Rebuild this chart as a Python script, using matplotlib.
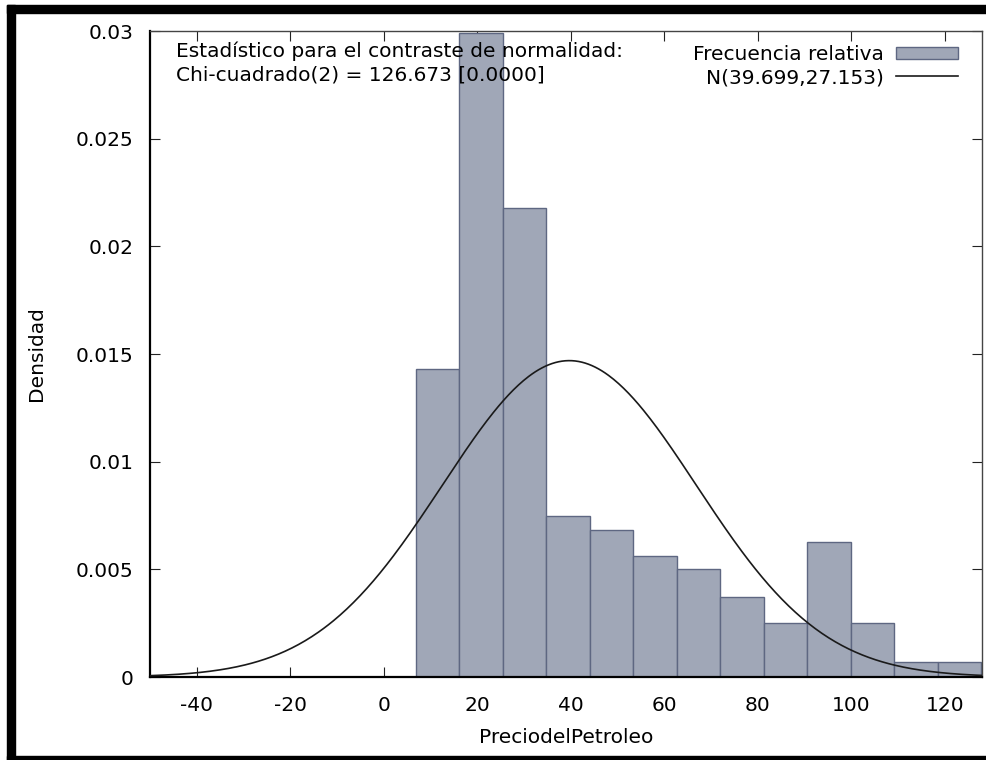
#!/usr/bin/env python

import numpy as np
import matplotlib
matplotlib.use('Agg')
import matplotlib.pyplot as plt
from matplotlib.patches import Rectangle


# histogram
bin_edges = [6.9, 16.2, 25.5, 34.8, 44.1, 53.4, 62.7, 72.0, 81.3, 90.6,
             99.9, 109.2, 118.5, 127.8]
densities = [0.0143, 0.0299, 0.0218, 0.00748, 0.00683, 0.00562, 0.00502,
             0.00372, 0.00251, 0.00627, 0.00251, 0.0007, 0.0007]

norm_mean = 39.699
norm_sd = 27.153

x_ticks = [-40, -20, 0, 20, 40, 60, 80, 100, 120]
y_ticks = [0, 0.005, 0.01, 0.015, 0.02, 0.025, 0.03]
y_ticklabels = ['0', '0.005', '0.01', '0.015', '0.02', '0.025', '0.03']

stat_text = ('Estadístico para el contraste de normalidad:\n'
             'Chi-cuadrado(2) = 126.673 [0.0000]')


def create_figure(out: str):
    '''Histogram with fitted normal density, gretl style'''
    plt.rcParams['font.family'] = ['DejaVu Sans']
    plt.rcParams['axes.unicode_minus'] = False
    fs = 14.5
    fig = plt.figure(figsize=(9.87, 7.6), dpi=100)

    # black frame around the screenshot
    for rect in [(0.007, 0.9835, 0.993, 0.01), (0.007, 0, 0.008, 0.9935),
                 (0.007, 0, 0.993, 0.0055)]:
        fig.patches.append(Rectangle(rect[:2], rect[2], rect[3],
                                     transform=fig.transFigure,
                                     color='black', zorder=0))

    ax = fig.add_axes([0.152, 0.1092, 0.843, 0.85])

    widths = np.diff(bin_edges)
    bars = ax.bar(bin_edges[:-1], densities, width=widths, align='edge',
                  color='#a0a7b7', edgecolor='#5e6782', linewidth=1,
                  label='Frecuencia relativa', zorder=2)

    xs = np.linspace(-50, 128, 500)
    ys = np.exp(-0.5 * ((xs - norm_mean) / norm_sd) ** 2) / (
        norm_sd * np.sqrt(2 * np.pi))
    line, = ax.plot(xs, ys, color='#1a1a1a', linewidth=1.2,
                    label=f'N({norm_mean:.3f},{norm_sd:.3f})', zorder=3)

    ax.set_xlim(-50, 128)
    ax.set_ylim(0, 0.03)
    ax.set_xticks(x_ticks)
    ax.set_yticks(y_ticks)
    ax.set_yticklabels(y_ticklabels)
    ax.tick_params(direction='in', length=7, top=True, right=True,
                   labelsize=fs, color='#222222')
    ax.tick_params(axis='x', pad=14)
    ax.tick_params(axis='y', pad=12)

    for side in ['top', 'right']:
        ax.spines[side].set_color('#444444')
        ax.spines[side].set_linewidth(1)
    for side in ['left', 'bottom']:
        ax.spines[side].set_color('black')
        ax.spines[side].set_linewidth(1.6)

    ax.set_xlabel('PreciodelPetroleo', fontsize=fs, labelpad=9)
    ax.set_ylabel('Densidad', fontsize=fs, labelpad=21)

    ax.text(0.031, 0.983, stat_text, transform=ax.transAxes, fontsize=fs,
            va='top', ha='left', linespacing=1.25, zorder=4)

    ax.legend([bars, line], [bars.get_label(), line.get_label()],
              loc='upper right', bbox_to_anchor=(0.988, 1.0),
              frameon=False, markerfirst=False,
              fontsize=fs, handlelength=3.1, handleheight=0.6,
              borderaxespad=0.4, labelspacing=0.2, handletextpad=0.6,
              borderpad=0.3)

    fig.savefig(out)


if __name__ == '__main__':
    create_figure('out.png')
